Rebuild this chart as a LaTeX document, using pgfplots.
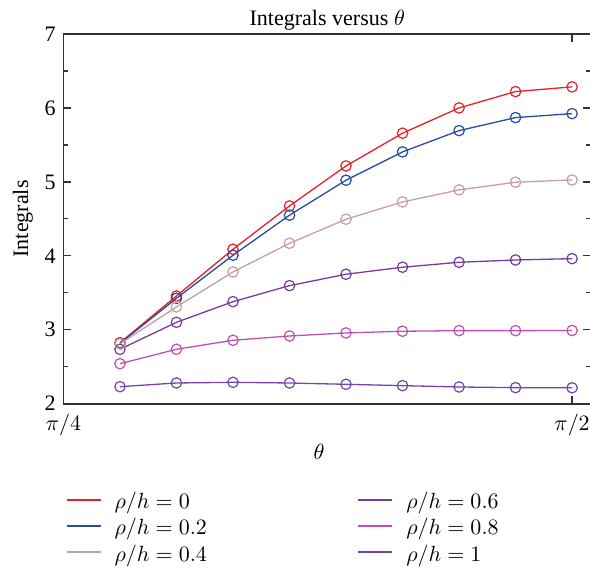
\documentclass[border=0pt]{standalone}
\usepackage{fontspec}
\setmainfont{Liberation Serif}
\usepackage{pgfplots}
\pgfplotsset{compat=1.18}
\definecolor{c0}{RGB}{232,32,40}
\definecolor{c2}{RGB}{40,76,160}
\definecolor{c4}{RGB}{196,160,160}
\definecolor{c6}{RGB}{120,60,160}
\definecolor{c8}{RGB}{192,80,176}
\definecolor{c10}{RGB}{115,70,175}
\newcommand{\lent}[1]{\makebox[121pt][l]{\rule[-3pt]{0pt}{13.3pt}$\rho/h = #1$}}
\begin{document}
\fontsize{11}{13}\selectfont
\begin{tikzpicture}
\begin{axis}[
  at={(0,0)}, anchor=south west, scale only axis,
  width=263.2pt, height=184.4pt,
  xmin=0.7854, xmax=1.6, ymin=2, ymax=7,
  xtick={0.7854,1.5708}, xticklabels={$\pi/4$,$\pi/2$},
  ytick={2,3,4,5,6,7}, minor y tick num=1,
  tick align=inside, major tick length=4pt, minor tick length=2.5pt,
  axis line style={line width=0.85pt, color=black!80},
  every tick/.style={black!80, line width=0.6pt},
  /pgf/number format/assume math mode=true,
  xticklabel style={yshift=-1.5pt},
  every axis title shift=0pt,
  title={Integrals versus $\theta$},
  title style={at={(axis description cs:0.5,1.0244)}, anchor=base},
  xlabel={$\theta$},
  xlabel style={at={(axis description cs:0.4848,-0.1518)}, anchor=base},
  ylabel={Integrals},
  ylabel style={at={(axis description cs:-0.06706,0.5)}, anchor=base},
  every axis plot/.append style={line width=0.65pt, mark=o, mark size=2.6pt, mark options={solid, line width=0.6pt}},
  legend columns=2,
  legend cell align=left,
  legend style={draw=none, fill=none, at={(axis description cs:0,0)}, anchor=north west,
    xshift=0.85pt, yshift=-41.9pt, inner sep=0pt, nodes={inner sep=0pt}, row sep=1.1pt,
    /tikz/every odd column/.style={column sep=6.5pt},
    /tikz/every even column/.style={column sep=0pt}},
  legend image code/.code={\draw[#1, line width=1pt] (0pt,0pt) -- (17pt,0pt);},
]
\addplot[c0] coordinates {(0.8727,2.825) (0.9599,3.457) (1.0472,4.089) (1.1345,4.675) (1.2217,5.216) (1.3090,5.659) (1.3963,6.001) (1.4835,6.222) (1.5708,6.286)};
\addlegendentry{\lent{0}}
\addplot[c6] coordinates {(0.8727,2.736) (0.9599,3.101) (1.0472,3.380) (1.1345,3.597) (1.2217,3.751) (1.3090,3.846) (1.3963,3.913) (1.4835,3.944) (1.5708,3.962)};
\addlegendentry{\lent{0.6}}
\addplot[c2] coordinates {(0.8727,2.815) (0.9599,3.426) (1.0472,4.008) (1.1345,4.550) (1.2217,5.023) (1.3090,5.406) (1.3963,5.694) (1.4835,5.870) (1.5708,5.924)};
\addlegendentry{\lent{0.2}}
\addplot[c8] coordinates {(0.8727,2.541) (0.9599,2.736) (1.0472,2.858) (1.1345,2.916) (1.2217,2.957) (1.3090,2.980) (1.3963,2.988) (1.4835,2.988) (1.5708,2.990)};
\addlegendentry{\lent{0.8}}
\addplot[c4] coordinates {(0.8727,2.810) (0.9599,3.309) (1.0472,3.782) (1.1345,4.170) (1.2217,4.495) (1.3090,4.729) (1.3963,4.892) (1.4835,4.996) (1.5708,5.027)};
\addlegendentry{\lent{0.4}}
\addplot[c10] coordinates {(0.8727,2.230) (0.9599,2.280) (1.0472,2.289) (1.1345,2.280) (1.2217,2.262) (1.3090,2.244) (1.3963,2.226) (1.4835,2.217) (1.5708,2.215)};
\addlegendentry{\lent{1}}
\end{axis}
\pgfresetboundingbox
\path (-31.65pt,-81.65pt) rectangle (262.7pt,201.4pt);
\end{tikzpicture}
\end{document}
